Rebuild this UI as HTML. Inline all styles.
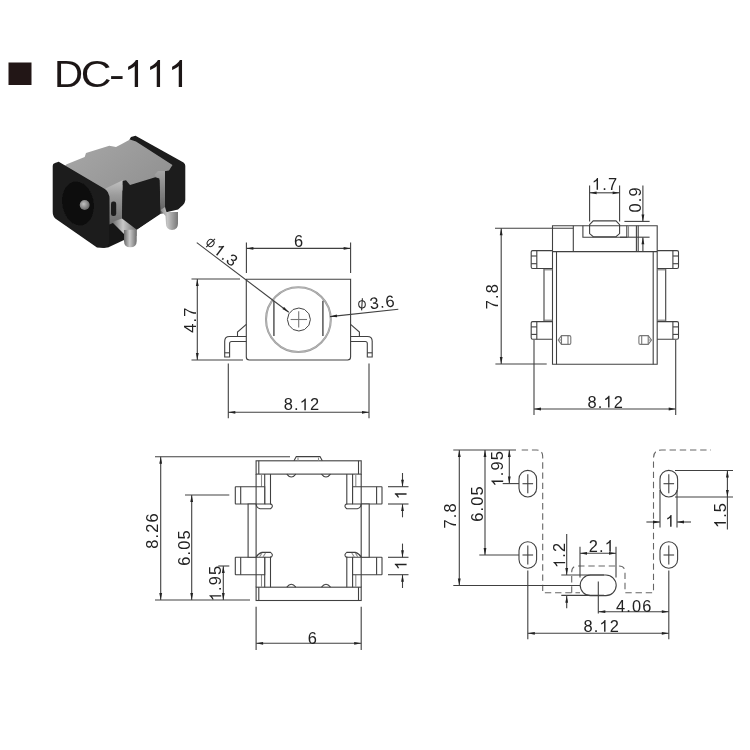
<!DOCTYPE html>
<html><head><meta charset="utf-8"><title>DC-111</title>
<style>
html,body{margin:0;padding:0;background:#fff;}
body{width:750px;height:750px;overflow:hidden;font-family:"Liberation Sans",sans-serif;}
svg{display:block;}
svg line,svg path,svg rect,svg circle,svg ellipse,svg polyline{fill:none;stroke:#404040;stroke-width:1.1;}
svg text{font-family:"Liberation Sans",sans-serif;fill:#222;text-anchor:middle;dominant-baseline:central;stroke:none;}
svg .ah{fill:#222;stroke:none;}
svg .g{stroke:#777;}
svg .lt{stroke:#8a8a8a;}
svg .k{stroke:#222;stroke-width:1;}
svg .d{stroke-dasharray:6.4 3.8;stroke:#666;}
svg .f{stroke:none;}
</style></head><body>
<svg width="750" height="750" viewBox="0 0 750 750">
<defs>
<filter id="soft" filterUnits="userSpaceOnUse" x="0" y="0" width="750" height="750"><feGaussianBlur stdDeviation="0.5"/></filter>
<filter id="bl" x="-5%" y="-5%" width="110%" height="110%"><feGaussianBlur stdDeviation="0.7"/></filter>
<linearGradient id="gt" x1="0" y1="0" x2="1" y2="0.6"><stop offset="0" stop-color="#a8a8a8"/><stop offset="0.5" stop-color="#9d9d9d"/><stop offset="1" stop-color="#929292"/></linearGradient>
<linearGradient id="gs" x1="0" y1="0" x2="0" y2="1"><stop offset="0" stop-color="#c2c2c2"/><stop offset="0.35" stop-color="#9a9a9a"/><stop offset="1" stop-color="#6a6a6a"/></linearGradient>
<linearGradient id="gl" x1="0" y1="0" x2="1" y2="0"><stop offset="0" stop-color="#6a6a6a"/><stop offset="0.45" stop-color="#c8c8c8"/><stop offset="1" stop-color="#6e6e6e"/></linearGradient>
<linearGradient id="gs2" x1="0" y1="0" x2="0" y2="1"><stop offset="0" stop-color="#a5a5a5"/><stop offset="1" stop-color="#5e5e5e"/></linearGradient>
<linearGradient id="gl2" x1="0" y1="0" x2="1" y2="0"><stop offset="0" stop-color="#8a8a8a"/><stop offset="0.4" stop-color="#c4c4c4"/><stop offset="1" stop-color="#777"/></linearGradient>
<radialGradient id="gp" cx="0.4" cy="0.4" r="0.7"><stop offset="0" stop-color="#c0c0c0"/><stop offset="1" stop-color="#5a5a5a"/></radialGradient>
</defs>
<g filter="url(#soft)">
<rect x="8.5" y="62.5" width="23" height="22.5" style="fill:#231815;stroke:none"/>
<text transform="translate(53.9 87) scale(1.067 1)" x="0" y="0" font-size="37.7" style="text-anchor:start;dominant-baseline:alphabetic;fill:#1c1716">D</text>
<text transform="translate(80.7 87) scale(1.13 1)" x="0" y="0" font-size="37.7" style="text-anchor:start;dominant-baseline:alphabetic;fill:#1c1716">C</text>
<text transform="translate(109.1 87) scale(1.25 1)" x="0" y="0" font-size="37.7" style="text-anchor:start;dominant-baseline:alphabetic;fill:#1c1716">-</text>
<path d="M763,0 H583 V1147 Q518,1085 412.5,1023 Q307,961 223,930 V1104 Q374,1175 487,1276 Q600,1377 647,1472 H763 Z" transform="translate(124 87) scale(0.01841 -0.01841)" style="fill:#1c1716;stroke:none"/>
<path d="M763,0 H583 V1147 Q518,1085 412.5,1023 Q307,961 223,930 V1104 Q374,1175 487,1276 Q600,1377 647,1472 H763 Z" transform="translate(146 87) scale(0.01841 -0.01841)" style="fill:#1c1716;stroke:none"/>
<path d="M763,0 H583 V1147 Q518,1085 412.5,1023 Q307,961 223,930 V1104 Q374,1175 487,1276 Q600,1377 647,1472 H763 Z" transform="translate(168 87) scale(0.01841 -0.01841)" style="fill:#1c1716;stroke:none"/>
</g>
<g filter="url(#bl)">
<path style="fill:#1a1a1a;stroke:none" d="M129.5,139.5 L131,137 L135.5,135.8 L183.5,162.5 Q185.3,163.5 185.3,166 L185.3,200 Q185,203 183,205 L178,209.5 L163,213 L158,180 Z"/>
<polygon style="fill:#191919;stroke:none" points="107,196 124,190 160,178 161,213.5 137,229.5 124,240 108,247.5 100,247"/>
<polygon style="fill:url(#gt);stroke:none" points="66.7,164.3 84.7,157 86,153 109.3,145.7 116,147 121.3,144.3 130,139.5 136,141.5 172.5,165 169,170.5 160,172 158,180 130,188 124,184 108,194 62,168"/>
<polygon style="fill:url(#gs);stroke:none" points="105.5,188.5 122.7,180.3 122.3,219 109.3,224.5 109.3,196"/>
<polygon style="fill:url(#gs2);stroke:none" points="154.5,175 158,171 165,171 165,213 160.5,214 159.5,180"/>
<polygon style="fill:#1b1b1b;stroke:none" points="122.7,181 126,180.2 130,185 155.3,177.2 159.3,178.5 160.3,213.3 136.7,229.5 122,218.7"/>
<path style="fill:#1a1a1a;stroke:none" d="M52.7,166 Q52.7,163.5 55,163 L58.7,161.7 L104,188.5 Q109.3,191.5 109.3,198 L109.3,243 Q109,247.5 104,248 L97,247.5 L56,219 Q52.7,216.5 52.7,212 Z"/>
<ellipse style="fill:#0b0b0b;stroke:none" cx="78" cy="203.5" rx="15.5" ry="22" transform="rotate(-10 78 203.5)"/>
<circle style="fill:url(#gp);stroke:none" cx="84.7" cy="205" r="5"/>
<rect style="fill:#1c1c1c;stroke:none" x="111" y="201.5" width="5.2" height="14.5" rx="2.2"/>
<polygon style="fill:url(#gl);stroke:none" points="112,222 122,218.5 136.5,229.5 136.5,236 124,234"/>
<path style="fill:url(#gl);stroke:none" d="M124,230 L136.7,229.5 L136.7,241 Q136.7,247.3 130.3,247.3 Q124,247.3 124,241 Z"/>
<path style="fill:url(#gl2);stroke:none" d="M160.5,210 L165,207 L166.5,212 L178,212 L178,223.5 Q178,230 172,230 Q166,230 166,223.5 L165.5,216 Z"/>
</g>
<g filter="url(#soft)">
<path d="M246.3,279.2 H350.6 V357 Q350.6,360 347.6,360 H249.3 Q246.3,360 246.3,357 Z"/>
<circle cx="298.4" cy="319.6" r="32.4" style="stroke:#9c9c9c;stroke-width:2.1"/>
<circle cx="298.4" cy="319.6" r="32.4" style="stroke:#c4c4c4;stroke-width:0.6"/>
<line x1="273.9" y1="300.8" x2="273.9" y2="336.0" style="stroke:#555;stroke-width:1.5"/>
<line x1="322.9" y1="300.8" x2="322.9" y2="336.0" style="stroke:#555;stroke-width:1.5"/>
<polygon points="298.9,308.0 304.6,309.5 308.9,313.8 310.4,319.5 308.9,325.2 304.6,329.5 298.9,331.0 293.1,329.5 288.9,325.2 287.4,319.5 288.9,313.8 293.1,309.5" style="fill:none;stroke:#444;stroke-width:1"/>
<line x1="290.6" y1="319.5" x2="307.0" y2="319.5" class="g"/>
<line x1="298.7" y1="311.2" x2="298.7" y2="327.6" class="g"/>
<path d="M246.3,336.5 H229.5 Q224.7,336.5 224.7,341.3 V357 H229.6 V343.5 Q229.6,341.5 231.6,341.5 H246.3"/>
<line x1="224.7" y1="352.8" x2="229.6" y2="352.8"/>
<path d="M237.5,336.5 V332 L246.3,324.4"/>
<path d="M350.6,336.5 H367.4 Q372.2,336.5 372.2,341.3 V357 H367.3 V343.5 Q367.3,341.5 365.3,341.5 H350.6"/>
<line x1="372.2" y1="352.8" x2="367.3" y2="352.8"/>
<path d="M359.4,336.5 V332 L350.6,324.4"/>
<line x1="246.4" y1="242.6" x2="246.4" y2="273.0"/>
<line x1="350.6" y1="242.6" x2="350.6" y2="273.0"/>
<line x1="246.4" y1="248.4" x2="350.6" y2="248.4"/>
<polygon class="ah" points="246.4,248.4 253.4,247.0 253.4,249.8"/>
<polygon class="ah" points="350.6,248.4 343.6,249.8 343.6,247.0"/>
<g transform="translate(298.5 240.7) translate(-4.53 0)"><text x="0.00" y="5.87" font-size="16.4" style="text-anchor:start;dominant-baseline:alphabetic;fill:#222">6</text></g>
<line x1="191.5" y1="279.0" x2="240.0" y2="279.0"/>
<line x1="191.5" y1="360.0" x2="243.0" y2="360.0"/>
<line x1="197.3" y1="279.0" x2="197.3" y2="360.0"/>
<polygon class="ah" points="197.3,279.0 198.7,286.0 195.9,286.0"/>
<polygon class="ah" points="197.3,360.0 195.9,353.0 198.7,353.0"/>
<g transform="translate(190.0 320.5) rotate(-90) translate(-12.30 0)"><text x="0.00" y="5.87" font-size="16.4" style="text-anchor:start;dominant-baseline:alphabetic;fill:#222">4</text><text x="10.27" y="5.87" font-size="16.4" style="text-anchor:start;dominant-baseline:alphabetic;fill:#222">.</text><text x="15.98" y="5.87" font-size="16.4" style="text-anchor:start;dominant-baseline:alphabetic;fill:#222">7</text></g>
<line x1="228.3" y1="363.5" x2="228.3" y2="418.3"/>
<line x1="369.0" y1="363.5" x2="369.0" y2="418.3"/>
<line x1="228.3" y1="412.3" x2="369.0" y2="412.3"/>
<polygon class="ah" points="228.3,412.3 235.3,410.9 235.3,413.7"/>
<polygon class="ah" points="369.0,412.3 362.0,413.7 362.0,410.9"/>
<g transform="translate(301.3 404.3) translate(-17.58 0)"><text x="0.00" y="5.87" font-size="16.4" style="text-anchor:start;dominant-baseline:alphabetic;fill:#222">8</text><text x="10.27" y="5.87" font-size="16.4" style="text-anchor:start;dominant-baseline:alphabetic;fill:#222">.</text><path d="M763,0 H583 V1147 Q518,1085 412.5,1023 Q307,961 223,930 V1104 Q374,1175 487,1276 Q600,1377 647,1472 H763 Z" transform="translate(15.98 5.87) scale(0.00801 -0.00801)" style="fill:#222;stroke:none"/><text x="26.25" y="5.87" font-size="16.4" style="text-anchor:start;dominant-baseline:alphabetic;fill:#222">2</text></g>
<line x1="196.8" y1="242.6" x2="288.8" y2="312.2"/>
<polygon class="ah" points="288.8,312.2 282.4,309.1 284.1,306.9"/>
<g transform="translate(210.6 243.0) rotate(37)"><ellipse cx="0" cy="0" rx="3.3" ry="3.6" class="k"/><line x1="1" y1="-6" x2="-1" y2="6" class="k"/></g>
<g transform="translate(226.3 255.2) rotate(37) translate(-13.08 0)"><path d="M763,0 H583 V1147 Q518,1085 412.5,1023 Q307,961 223,930 V1104 Q374,1175 487,1276 Q600,1377 647,1472 H763 Z" transform="translate(0.00 5.87) scale(0.00801 -0.00801)" style="fill:#222;stroke:none"/><text x="10.27" y="5.87" font-size="16.4" style="text-anchor:start;dominant-baseline:alphabetic;fill:#222">.</text><text x="15.98" y="5.87" font-size="16.4" style="text-anchor:start;dominant-baseline:alphabetic;fill:#222">3</text></g>
<line x1="398.3" y1="309.3" x2="330.0" y2="316.6"/>
<polygon class="ah" points="330.0,316.6 336.8,314.4 337.1,317.2"/>
<g transform="translate(362.0 304.3) rotate(-6)"><ellipse cx="0" cy="0" rx="3.3" ry="3.6" class="k"/><line x1="1" y1="-6" x2="-1" y2="6" class="k"/></g>
<g transform="translate(382.0 302.0) rotate(-6.2) translate(-12.56 0)"><text x="0.00" y="5.87" font-size="16.4" style="text-anchor:start;dominant-baseline:alphabetic;fill:#222">3</text><text x="10.27" y="5.87" font-size="16.4" style="text-anchor:start;dominant-baseline:alphabetic;fill:#222">.</text><text x="15.98" y="5.87" font-size="16.4" style="text-anchor:start;dominant-baseline:alphabetic;fill:#222">6</text></g>
<path d="M552.5,225.7 H657.2 V364.3 H552.5 Z"/>
<line x1="552.5" y1="251.6" x2="657.2" y2="251.6"/>
<line x1="556.5" y1="251.6" x2="556.5" y2="364.3"/>
<line x1="653.2" y1="251.6" x2="653.2" y2="364.3"/>
<line x1="573.3" y1="225.7" x2="573.3" y2="251.6"/>
<line x1="636.4" y1="225.7" x2="636.4" y2="251.6"/>
<line x1="638.2" y1="225.7" x2="638.2" y2="251.6"/>
<path d="M582.9,225.7 V237.2 H626.8 V225.7"/>
<line x1="628.5" y1="225.7" x2="628.5" y2="237.2" class="lt"/>
<path d="M589.6,224.7 L593.2,220.9 H616 L619.6,224.7 V233.6 L616,236.7 H593.2 L589.6,233.6 Z"/>
<path d="M552.5,250.6 H532.7 Q531.2,250.6 531.2,252.1 V267.0 Q531.2,268.5 532.7,268.5 H552.5"/>
<line x1="536.8" y1="250.6" x2="536.8" y2="268.5"/>
<line x1="531.2" y1="256.0" x2="536.8" y2="256.0"/>
<line x1="531.2" y1="263.7" x2="536.8" y2="263.7"/>
<path d="M552.5,321.6 H532.7 Q531.2,321.6 531.2,323.1 V337.7 Q531.2,339.2 532.7,339.2 H552.5"/>
<line x1="536.8" y1="321.6" x2="536.8" y2="339.2"/>
<line x1="531.2" y1="326.9" x2="536.8" y2="326.9"/>
<line x1="531.2" y1="334.4" x2="536.8" y2="334.4"/>
<line x1="544.0" y1="268.5" x2="544.0" y2="321.6"/>
<line x1="544.0" y1="269.8" x2="552.5" y2="269.8" class="g"/>
<line x1="544.0" y1="320.2" x2="552.5" y2="320.2" class="g"/>
<path d="M657.2,250.6 H677.0 Q678.5,250.6 678.5,252.1 V267.0 Q678.5,268.5 677.0,268.5 H657.2"/>
<line x1="672.9" y1="250.6" x2="672.9" y2="268.5"/>
<line x1="678.5" y1="256.0" x2="672.9" y2="256.0"/>
<line x1="678.5" y1="263.7" x2="672.9" y2="263.7"/>
<path d="M657.2,321.6 H677.0 Q678.5,321.6 678.5,323.1 V337.7 Q678.5,339.2 677.0,339.2 H657.2"/>
<line x1="672.9" y1="321.6" x2="672.9" y2="339.2"/>
<line x1="678.5" y1="326.9" x2="672.9" y2="326.9"/>
<line x1="678.5" y1="334.4" x2="672.9" y2="334.4"/>
<line x1="665.7" y1="268.5" x2="665.7" y2="321.6"/>
<line x1="665.7" y1="269.8" x2="657.2" y2="269.8" class="g"/>
<line x1="665.7" y1="320.2" x2="657.2" y2="320.2" class="g"/>
<path d="M558.2,340 L561.5,335.6 H569.3 Q570.8,335.6 570.8,337.1 V342.9 Q570.8,344.4 569.3,344.4 H561.5 Z" class="g"/>
<line x1="561.5" y1="335.6" x2="561.5" y2="344.4" class="g"/>
<line x1="568.0" y1="335.6" x2="568.0" y2="344.4" class="g"/>
<line x1="558.2" y1="340.0" x2="561.5" y2="340.0" class="lt"/>
<path d="M651.5,340 L648.2,335.6 H640.4 Q638.9,335.6 638.9,337.1 V342.9 Q638.9,344.4 640.4,344.4 H648.2 Z" class="g"/>
<line x1="648.2" y1="335.6" x2="648.2" y2="344.4" class="g"/>
<line x1="641.7" y1="335.6" x2="641.7" y2="344.4" class="g"/>
<line x1="651.5" y1="340.0" x2="648.2" y2="340.0" class="lt"/>
<line x1="589.6" y1="185.6" x2="589.6" y2="221.6"/>
<line x1="619.6" y1="185.6" x2="619.6" y2="221.6"/>
<line x1="589.6" y1="192.8" x2="619.6" y2="192.8"/>
<polygon class="ah" points="589.6,192.8 596.6,191.4 596.6,194.2"/>
<polygon class="ah" points="619.6,192.8 612.6,194.2 612.6,191.4"/>
<g transform="translate(605.0 184.0) translate(-13.09 0)"><path d="M763,0 H583 V1147 Q518,1085 412.5,1023 Q307,961 223,930 V1104 Q374,1175 487,1276 Q600,1377 647,1472 H763 Z" transform="translate(0.00 5.87) scale(0.00801 -0.00801)" style="fill:#222;stroke:none"/><text x="10.27" y="5.87" font-size="16.4" style="text-anchor:start;dominant-baseline:alphabetic;fill:#222">.</text><text x="15.98" y="5.87" font-size="16.4" style="text-anchor:start;dominant-baseline:alphabetic;fill:#222">7</text></g>
<line x1="642.9" y1="185.6" x2="642.9" y2="221.4"/>
<polygon class="ah" points="642.9,221.4 641.5,214.4 644.3,214.4"/>
<line x1="642.9" y1="237.2" x2="642.9" y2="251.6"/>
<polygon class="ah" points="642.9,237.2 644.3,244.2 641.5,244.2"/>
<line x1="624.4" y1="221.4" x2="649.6" y2="221.4"/>
<line x1="620.0" y1="237.2" x2="649.6" y2="237.2"/>
<g transform="translate(635.0 200.0) rotate(-90) translate(-12.56 0)"><text x="0.00" y="5.87" font-size="16.4" style="text-anchor:start;dominant-baseline:alphabetic;fill:#222">0</text><text x="10.27" y="5.87" font-size="16.4" style="text-anchor:start;dominant-baseline:alphabetic;fill:#222">.</text><text x="15.98" y="5.87" font-size="16.4" style="text-anchor:start;dominant-baseline:alphabetic;fill:#222">9</text></g>
<line x1="501.2" y1="228.3" x2="501.2" y2="364.0"/>
<polygon class="ah" points="501.2,228.3 502.6,235.3 499.8,235.3"/>
<polygon class="ah" points="501.2,364.0 499.8,357.0 502.6,357.0"/>
<line x1="495.0" y1="228.3" x2="573.3" y2="228.3"/>
<line x1="495.4" y1="364.0" x2="546.7" y2="364.0"/>
<g transform="translate(492.0 296.7) rotate(-90) translate(-12.58 0)"><text x="0.00" y="5.87" font-size="16.4" style="text-anchor:start;dominant-baseline:alphabetic;fill:#222">7</text><text x="10.27" y="5.87" font-size="16.4" style="text-anchor:start;dominant-baseline:alphabetic;fill:#222">.</text><text x="15.98" y="5.87" font-size="16.4" style="text-anchor:start;dominant-baseline:alphabetic;fill:#222">8</text></g>
<line x1="534.0" y1="340.0" x2="534.0" y2="415.0"/>
<line x1="675.7" y1="340.0" x2="675.7" y2="415.0"/>
<line x1="534.0" y1="409.0" x2="675.7" y2="409.0"/>
<polygon class="ah" points="534.0,409.0 541.0,407.6 541.0,410.4"/>
<polygon class="ah" points="675.7,409.0 668.7,410.4 668.7,407.6"/>
<g transform="translate(605.0 401.7) translate(-17.58 0)"><text x="0.00" y="5.87" font-size="16.4" style="text-anchor:start;dominant-baseline:alphabetic;fill:#222">8</text><text x="10.27" y="5.87" font-size="16.4" style="text-anchor:start;dominant-baseline:alphabetic;fill:#222">.</text><path d="M763,0 H583 V1147 Q518,1085 412.5,1023 Q307,961 223,930 V1104 Q374,1175 487,1276 Q600,1377 647,1472 H763 Z" transform="translate(15.98 5.87) scale(0.00801 -0.00801)" style="fill:#222;stroke:none"/><text x="26.25" y="5.87" font-size="16.4" style="text-anchor:start;dominant-baseline:alphabetic;fill:#222">2</text></g>
<rect x="256.1" y="460.8" width="105.1" height="13.3" rx="0"/>
<rect x="256.1" y="587.2" width="105.1" height="13.3" rx="0"/>
<line x1="258.8" y1="460.8" x2="258.8" y2="474.1"/>
<line x1="258.8" y1="587.2" x2="258.8" y2="600.5"/>
<line x1="264.7" y1="474.1" x2="264.7" y2="504.0"/>
<line x1="270.5" y1="474.1" x2="270.5" y2="504.5"/>
<line x1="264.7" y1="557.3" x2="264.7" y2="587.2"/>
<line x1="270.5" y1="556.5" x2="270.5" y2="587.2"/>
<line x1="261.5" y1="474.1" x2="261.5" y2="486.7" class="lt"/>
<line x1="261.5" y1="574.7" x2="261.5" y2="587.2" class="lt"/>
<path style="fill:#fff" d="M264.7,486.7 H235.8 Q235.3,486.7 235.3,487.2 V503.5 Q235.3,504 235.8,504 H264.7 Z"/>
<line x1="240.7" y1="486.7" x2="240.7" y2="504.0"/>
<path style="fill:#fff" d="M264.7,557.3 H235.8 Q235.3,557.3 235.3,557.8 V574.2 Q235.3,574.7 235.8,574.7 H264.7 Z"/>
<line x1="240.7" y1="557.3" x2="240.7" y2="574.7"/>
<path style="fill:#fff" d="M256.1,504 H248.1 V557.3 H256.1"/>
<line x1="256.1" y1="474.1" x2="256.1" y2="587.2"/>
<path d="M264.7,504 H271.0 Q274.0,506 270.5,508.8 H260.0 Q256.5,508 256.1,504"/>
<path d="M264.7,557.3 H271.0 Q274.0,555 270.5,552.4 H262.0 Q258.0,553.5 256.1,557.3"/>
<line x1="262.0" y1="553.0" x2="259.5" y2="557.0" class="lt"/>
<line x1="265.5" y1="553.0" x2="263.0" y2="557.0" class="lt"/>
<line x1="358.5" y1="460.8" x2="358.5" y2="474.1"/>
<line x1="358.5" y1="587.2" x2="358.5" y2="600.5"/>
<line x1="352.6" y1="474.1" x2="352.6" y2="504.0"/>
<line x1="346.8" y1="474.1" x2="346.8" y2="504.5"/>
<line x1="352.6" y1="557.3" x2="352.6" y2="587.2"/>
<line x1="346.8" y1="556.5" x2="346.8" y2="587.2"/>
<line x1="355.8" y1="474.1" x2="355.8" y2="486.7" class="lt"/>
<line x1="355.8" y1="574.7" x2="355.8" y2="587.2" class="lt"/>
<path style="fill:#fff" d="M352.6,486.7 H381.5 Q382.0,486.7 382.0,487.2 V503.5 Q382.0,504 381.5,504 H352.6 Z"/>
<line x1="376.6" y1="486.7" x2="376.6" y2="504.0"/>
<path style="fill:#fff" d="M352.6,557.3 H381.5 Q382.0,557.3 382.0,557.8 V574.2 Q382.0,574.7 381.5,574.7 H352.6 Z"/>
<line x1="376.6" y1="557.3" x2="376.6" y2="574.7"/>
<path style="fill:#fff" d="M361.2,504 H369.2 V557.3 H361.2"/>
<line x1="361.2" y1="474.1" x2="361.2" y2="587.2"/>
<path d="M352.6,504 H346.3 Q343.3,506 346.8,508.8 H357.3 Q360.8,508 361.2,504"/>
<path d="M352.6,557.3 H346.3 Q343.3,555 346.8,552.4 H355.3 Q359.3,553.5 361.2,557.3"/>
<line x1="355.3" y1="553.0" x2="357.8" y2="557.0" class="lt"/>
<line x1="351.8" y1="553.0" x2="354.3" y2="557.0" class="lt"/>
<path d="M286.8,474.1 Q291.3,480 295.8,474.1"/>
<path d="M286.8,587.2 Q291.3,581.3 295.8,587.2"/>
<path d="M321.5,474.1 Q326,480 330.5,474.1"/>
<path d="M321.5,587.2 Q326,581.3 330.5,587.2"/>
<path d="M294,460.8 L296.3,456.6 H320 L322.3,460.8"/>
<line x1="298.0" y1="457.6" x2="298.0" y2="460.8" class="lt"/>
<line x1="318.5" y1="457.6" x2="318.5" y2="460.8" class="lt"/>
<line x1="160.7" y1="456.8" x2="160.7" y2="600.0"/>
<polygon class="ah" points="160.7,456.8 162.1,463.8 159.3,463.8"/>
<polygon class="ah" points="160.7,600.0 159.3,593.0 162.1,593.0"/>
<line x1="155.0" y1="456.8" x2="290.0" y2="456.8"/>
<line x1="155.0" y1="600.0" x2="250.0" y2="600.0"/>
<g transform="translate(152.0 531.0) rotate(-90) translate(-17.68 0)"><text x="0.00" y="5.87" font-size="16.4" style="text-anchor:start;dominant-baseline:alphabetic;fill:#222">8</text><text x="10.27" y="5.87" font-size="16.4" style="text-anchor:start;dominant-baseline:alphabetic;fill:#222">.</text><text x="15.98" y="5.87" font-size="16.4" style="text-anchor:start;dominant-baseline:alphabetic;fill:#222">2</text><text x="26.25" y="5.87" font-size="16.4" style="text-anchor:start;dominant-baseline:alphabetic;fill:#222">6</text></g>
<line x1="191.7" y1="495.0" x2="191.7" y2="600.0"/>
<polygon class="ah" points="191.7,495.0 193.1,502.0 190.3,502.0"/>
<polygon class="ah" points="191.7,600.0 190.3,593.0 193.1,593.0"/>
<line x1="185.0" y1="495.0" x2="229.3" y2="495.0"/>
<g transform="translate(184.0 548.0) rotate(-90) translate(-17.68 0)"><text x="0.00" y="5.87" font-size="16.4" style="text-anchor:start;dominant-baseline:alphabetic;fill:#222">6</text><text x="10.27" y="5.87" font-size="16.4" style="text-anchor:start;dominant-baseline:alphabetic;fill:#222">.</text><text x="15.98" y="5.87" font-size="16.4" style="text-anchor:start;dominant-baseline:alphabetic;fill:#222">0</text><text x="26.25" y="5.87" font-size="16.4" style="text-anchor:start;dominant-baseline:alphabetic;fill:#222">5</text></g>
<line x1="223.3" y1="566.0" x2="223.3" y2="600.0"/>
<polygon class="ah" points="223.3,566.0 224.7,573.0 221.9,573.0"/>
<polygon class="ah" points="223.3,600.0 221.9,593.0 224.7,593.0"/>
<line x1="218.3" y1="566.0" x2="229.3" y2="566.0"/>
<g transform="translate(215.3 583.0) rotate(-90) translate(-18.27 0)"><path d="M763,0 H583 V1147 Q518,1085 412.5,1023 Q307,961 223,930 V1104 Q374,1175 487,1276 Q600,1377 647,1472 H763 Z" transform="translate(0.00 5.87) scale(0.00801 -0.00801)" style="fill:#222;stroke:none"/><text x="10.27" y="5.87" font-size="16.4" style="text-anchor:start;dominant-baseline:alphabetic;fill:#222">.</text><text x="15.98" y="5.87" font-size="16.4" style="text-anchor:start;dominant-baseline:alphabetic;fill:#222">9</text><text x="26.25" y="5.87" font-size="16.4" style="text-anchor:start;dominant-baseline:alphabetic;fill:#222">5</text></g>
<line x1="256.1" y1="606.7" x2="256.1" y2="650.0"/>
<line x1="361.2" y1="606.7" x2="361.2" y2="650.0"/>
<line x1="256.1" y1="643.3" x2="361.2" y2="643.3"/>
<polygon class="ah" points="256.1,643.3 263.1,641.9 263.1,644.7"/>
<polygon class="ah" points="361.2,643.3 354.2,644.7 354.2,641.9"/>
<g transform="translate(312.3 638.0) translate(-4.53 0)"><text x="0.00" y="5.87" font-size="16.4" style="text-anchor:start;dominant-baseline:alphabetic;fill:#222">6</text></g>
<line x1="388.0" y1="486.7" x2="408.5" y2="486.7"/>
<line x1="388.0" y1="504.0" x2="408.5" y2="504.0"/>
<line x1="402.5" y1="473.0" x2="402.5" y2="486.7"/>
<polygon class="ah" points="402.5,486.7 401.1,479.7 403.9,479.7"/>
<line x1="402.5" y1="504.0" x2="402.5" y2="517.3"/>
<polygon class="ah" points="402.5,504.0 403.9,511.0 401.1,511.0"/>
<g transform="translate(400.7 495.4) rotate(-90) translate(-3.95 0)"><path d="M763,0 H583 V1147 Q518,1085 412.5,1023 Q307,961 223,930 V1104 Q374,1175 487,1276 Q600,1377 647,1472 H763 Z" transform="translate(0.00 5.87) scale(0.00801 -0.00801)" style="fill:#222;stroke:none"/></g>
<line x1="388.0" y1="557.3" x2="408.5" y2="557.3"/>
<line x1="388.0" y1="574.7" x2="408.5" y2="574.7"/>
<line x1="402.5" y1="543.6" x2="402.5" y2="557.3"/>
<polygon class="ah" points="402.5,557.3 401.1,550.3 403.9,550.3"/>
<line x1="402.5" y1="574.7" x2="402.5" y2="588.0"/>
<polygon class="ah" points="402.5,574.7 403.9,581.7 401.1,581.7"/>
<g transform="translate(400.7 566.0) rotate(-90) translate(-3.95 0)"><path d="M763,0 H583 V1147 Q518,1085 412.5,1023 Q307,961 223,930 V1104 Q374,1175 487,1276 Q600,1377 647,1472 H763 Z" transform="translate(0.00 5.87) scale(0.00801 -0.00801)" style="fill:#222;stroke:none"/></g>
<path d="M521.7,450 H536.7 Q542.7,450 542.7,456.7 V592.7 H580" class="d"/>
<path d="M571.7,592.7 V572 Q571.7,566 577.7,566 H619 Q625,566 625,572 V592.7 H653.5 V458 Q653.5,450 661.5,450 H711" class="d"/>
<rect x="519.0" y="470.4" width="17.6" height="26.6" rx="8.8" style="fill:#fff"/>
<line x1="522.5" y1="483.7" x2="533.1" y2="483.7"/>
<rect x="519.0" y="541.7" width="17.6" height="26.6" rx="8.8" style="fill:#fff"/>
<line x1="522.5" y1="555.0" x2="533.1" y2="555.0"/>
<line x1="527.8" y1="474.2" x2="527.8" y2="493.2"/>
<line x1="527.8" y1="545.5" x2="527.8" y2="564.5"/>
<line x1="527.8" y1="570.5" x2="527.8" y2="639.3"/>
<rect x="660.0" y="470.4" width="17.6" height="26.6" rx="8.8" style="fill:#fff"/>
<line x1="663.5" y1="483.7" x2="674.1" y2="483.7"/>
<rect x="660.0" y="541.7" width="17.6" height="26.6" rx="8.8" style="fill:#fff"/>
<line x1="663.5" y1="555.0" x2="674.1" y2="555.0"/>
<line x1="668.8" y1="474.2" x2="668.8" y2="493.2"/>
<line x1="668.8" y1="545.5" x2="668.8" y2="564.5"/>
<line x1="668.8" y1="570.5" x2="668.8" y2="639.3"/>
<rect x="580.2" y="575.0" width="36" height="20.6" rx="10.3" style="fill:#fff"/>
<line x1="598.3" y1="581.5" x2="598.3" y2="613.5"/>
<line x1="459.3" y1="450.0" x2="459.3" y2="585.5"/>
<polygon class="ah" points="459.3,450.0 460.7,457.0 457.9,457.0"/>
<polygon class="ah" points="459.3,585.5 457.9,578.5 460.7,578.5"/>
<line x1="453.3" y1="450.0" x2="516.0" y2="450.0"/>
<line x1="453.3" y1="585.5" x2="580.0" y2="585.5"/>
<g transform="translate(450.0 516.0) rotate(-90) translate(-12.58 0)"><text x="0.00" y="5.87" font-size="16.4" style="text-anchor:start;dominant-baseline:alphabetic;fill:#222">7</text><text x="10.27" y="5.87" font-size="16.4" style="text-anchor:start;dominant-baseline:alphabetic;fill:#222">.</text><text x="15.98" y="5.87" font-size="16.4" style="text-anchor:start;dominant-baseline:alphabetic;fill:#222">8</text></g>
<line x1="485.0" y1="450.0" x2="485.0" y2="555.0"/>
<polygon class="ah" points="485.0,450.0 486.4,457.0 483.6,457.0"/>
<polygon class="ah" points="485.0,555.0 483.6,548.0 486.4,548.0"/>
<line x1="479.3" y1="555.0" x2="519.0" y2="555.0"/>
<g transform="translate(476.7 504.0) rotate(-90) translate(-17.68 0)"><text x="0.00" y="5.87" font-size="16.4" style="text-anchor:start;dominant-baseline:alphabetic;fill:#222">6</text><text x="10.27" y="5.87" font-size="16.4" style="text-anchor:start;dominant-baseline:alphabetic;fill:#222">.</text><text x="15.98" y="5.87" font-size="16.4" style="text-anchor:start;dominant-baseline:alphabetic;fill:#222">0</text><text x="26.25" y="5.87" font-size="16.4" style="text-anchor:start;dominant-baseline:alphabetic;fill:#222">5</text></g>
<line x1="509.3" y1="450.0" x2="509.3" y2="483.6"/>
<polygon class="ah" points="509.3,450.0 510.7,457.0 507.9,457.0"/>
<polygon class="ah" points="509.3,483.6 507.9,476.6 510.7,476.6"/>
<line x1="502.7" y1="483.6" x2="519.0" y2="483.6"/>
<g transform="translate(497.3 468.3) rotate(-90) translate(-18.27 0)"><path d="M763,0 H583 V1147 Q518,1085 412.5,1023 Q307,961 223,930 V1104 Q374,1175 487,1276 Q600,1377 647,1472 H763 Z" transform="translate(0.00 5.87) scale(0.00801 -0.00801)" style="fill:#222;stroke:none"/><text x="10.27" y="5.87" font-size="16.4" style="text-anchor:start;dominant-baseline:alphabetic;fill:#222">.</text><text x="15.98" y="5.87" font-size="16.4" style="text-anchor:start;dominant-baseline:alphabetic;fill:#222">9</text><text x="26.25" y="5.87" font-size="16.4" style="text-anchor:start;dominant-baseline:alphabetic;fill:#222">5</text></g>
<line x1="566.7" y1="534.0" x2="566.7" y2="575.0"/>
<polygon class="ah" points="566.7,575.0 565.3,568.0 568.1,568.0"/>
<line x1="566.7" y1="595.7" x2="566.7" y2="608.3"/>
<polygon class="ah" points="566.7,595.7 568.1,602.7 565.3,602.7"/>
<line x1="561.3" y1="575.0" x2="604.0" y2="575.0"/>
<line x1="561.3" y1="595.4" x2="604.0" y2="595.4"/>
<g transform="translate(559.3 555.0) rotate(-90) translate(-13.01 0)"><path d="M763,0 H583 V1147 Q518,1085 412.5,1023 Q307,961 223,930 V1104 Q374,1175 487,1276 Q600,1377 647,1472 H763 Z" transform="translate(0.00 5.87) scale(0.00801 -0.00801)" style="fill:#222;stroke:none"/><text x="10.27" y="5.87" font-size="16.4" style="text-anchor:start;dominant-baseline:alphabetic;fill:#222">.</text><text x="15.98" y="5.87" font-size="16.4" style="text-anchor:start;dominant-baseline:alphabetic;fill:#222">2</text></g>
<line x1="580.0" y1="546.7" x2="580.0" y2="577.5"/>
<line x1="616.0" y1="546.7" x2="616.0" y2="577.5"/>
<line x1="580.0" y1="553.3" x2="616.0" y2="553.3"/>
<polygon class="ah" points="580.0,553.3 587.0,551.9 587.0,554.7"/>
<polygon class="ah" points="616.0,553.3 609.0,554.7 609.0,551.9"/>
<g transform="translate(600.0 546.0) translate(-11.29 0)"><text x="0.00" y="5.87" font-size="16.4" style="text-anchor:start;dominant-baseline:alphabetic;fill:#222">2</text><text x="10.27" y="5.87" font-size="16.4" style="text-anchor:start;dominant-baseline:alphabetic;fill:#222">.</text><path d="M763,0 H583 V1147 Q518,1085 412.5,1023 Q307,961 223,930 V1104 Q374,1175 487,1276 Q600,1377 647,1472 H763 Z" transform="translate(15.98 5.87) scale(0.00801 -0.00801)" style="fill:#222;stroke:none"/></g>
<line x1="598.3" y1="611.7" x2="668.8" y2="611.7"/>
<polygon class="ah" points="598.3,611.7 605.3,610.3 605.3,613.1"/>
<polygon class="ah" points="668.8,611.7 661.8,613.1 661.8,610.3"/>
<g transform="translate(633.5 606.2) translate(-17.45 0)"><text x="0.00" y="5.87" font-size="16.4" style="text-anchor:start;dominant-baseline:alphabetic;fill:#222">4</text><text x="10.27" y="5.87" font-size="16.4" style="text-anchor:start;dominant-baseline:alphabetic;fill:#222">.</text><text x="15.98" y="5.87" font-size="16.4" style="text-anchor:start;dominant-baseline:alphabetic;fill:#222">0</text><text x="26.25" y="5.87" font-size="16.4" style="text-anchor:start;dominant-baseline:alphabetic;fill:#222">6</text></g>
<line x1="527.8" y1="633.3" x2="668.8" y2="633.3"/>
<polygon class="ah" points="527.8,633.3 534.8,631.9 534.8,634.7"/>
<polygon class="ah" points="668.8,633.3 661.8,634.7 661.8,631.9"/>
<g transform="translate(601.0 626.0) translate(-17.58 0)"><text x="0.00" y="5.87" font-size="16.4" style="text-anchor:start;dominant-baseline:alphabetic;fill:#222">8</text><text x="10.27" y="5.87" font-size="16.4" style="text-anchor:start;dominant-baseline:alphabetic;fill:#222">.</text><path d="M763,0 H583 V1147 Q518,1085 412.5,1023 Q307,961 223,930 V1104 Q374,1175 487,1276 Q600,1377 647,1472 H763 Z" transform="translate(15.98 5.87) scale(0.00801 -0.00801)" style="fill:#222;stroke:none"/><text x="26.25" y="5.87" font-size="16.4" style="text-anchor:start;dominant-baseline:alphabetic;fill:#222">2</text></g>
<line x1="675.0" y1="470.5" x2="733.0" y2="470.5"/>
<line x1="675.0" y1="497.0" x2="733.0" y2="497.0"/>
<line x1="727.4" y1="470.5" x2="727.4" y2="529.6"/>
<polygon class="ah" points="727.4,470.5 728.8,477.5 726.0,477.5"/>
<polygon class="ah" points="727.4,497.0 726.0,490.0 728.8,490.0"/>
<g transform="translate(720.0 515.0) rotate(-90) translate(-13.13 0)"><path d="M763,0 H583 V1147 Q518,1085 412.5,1023 Q307,961 223,930 V1104 Q374,1175 487,1276 Q600,1377 647,1472 H763 Z" transform="translate(0.00 5.87) scale(0.00801 -0.00801)" style="fill:#222;stroke:none"/><text x="10.27" y="5.87" font-size="16.4" style="text-anchor:start;dominant-baseline:alphabetic;fill:#222">.</text><text x="15.98" y="5.87" font-size="16.4" style="text-anchor:start;dominant-baseline:alphabetic;fill:#222">5</text></g>
<line x1="660.0" y1="490.0" x2="660.0" y2="527.6"/>
<line x1="677.0" y1="490.0" x2="677.0" y2="527.6"/>
<line x1="646.4" y1="522.0" x2="660.0" y2="522.0"/>
<polygon class="ah" points="660.0,522.0 653.0,523.4 653.0,520.6"/>
<line x1="677.0" y1="522.0" x2="691.0" y2="522.0"/>
<polygon class="ah" points="677.0,522.0 684.0,520.6 684.0,523.4"/>
<g transform="translate(669.4 521.0) translate(-3.95 0)"><path d="M763,0 H583 V1147 Q518,1085 412.5,1023 Q307,961 223,930 V1104 Q374,1175 487,1276 Q600,1377 647,1472 H763 Z" transform="translate(0.00 5.87) scale(0.00801 -0.00801)" style="fill:#222;stroke:none"/></g>
</g>
</svg>
</body></html>
